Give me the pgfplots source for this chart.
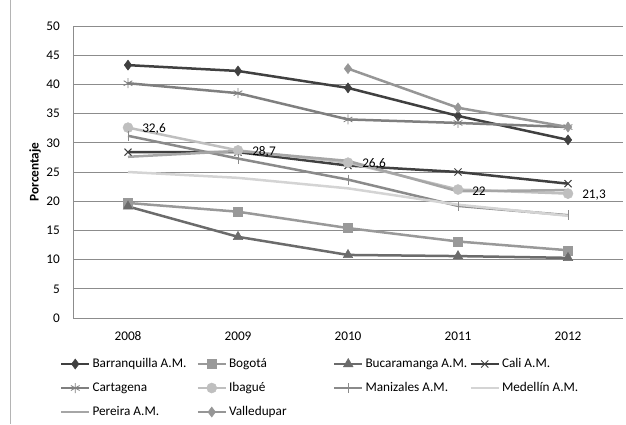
\documentclass[border=0pt]{standalone}
\usepackage{pgfplots}
\pgfplotsset{compat=1.18}
\usepackage{fontspec}
\setmainfont{Carlito}
\definecolor{gridc}{HTML}{8C8C8C}
\definecolor{cBarr}{HTML}{404040}
\definecolor{cBog}{HTML}{999999}
\definecolor{cBuc}{HTML}{6B6B6B}
\definecolor{cCali}{HTML}{404040}
\definecolor{cCart}{HTML}{7F7F7F}
\definecolor{cIba}{HTML}{BFBFBF}
\definecolor{cMan}{HTML}{8A8A8A}
\definecolor{cMed}{HTML}{D4D4D4}
\definecolor{cPer}{HTML}{A6A6A6}
\definecolor{cVal}{HTML}{969696}
\begin{document}
\fontsize{13.3}{16}\selectfont
\begin{tikzpicture}[x=1bp,y=1bp]
\useasboundingbox (0,0) rectangle (626,424);
\draw[color={rgb,255:red,180;green,180;blue,180}, line width=1bp] (10,0) -- (10,424);
\begin{axis}[
  at={(73bp,106bp)}, anchor=south west,
  scale only axis, width=550bp, height=292bp,
  xmin=-0.5, xmax=4.5, ymin=0, ymax=50,
  xtick={0,1,2,3,4}, xticklabels={2008,2009,2010,2011,2012},
  ytick={0,5,...,50},
  /pgf/number format/assume math mode=true,
  major tick length=0pt,
  axis lines*=left,
  axis line style={draw=gridc, line width=1bp},
  ymajorgrids, grid style={draw=gridc, line width=1bp},
  xticklabel style={anchor=base, inner sep=0pt, yshift=-22.3bp},
  yticklabel style={anchor=east, inner sep=0pt, xshift=-13bp},
  ylabel={\bfseries Porcentaje},
  every axis y label/.style={at={(axis description cs:-0.0691,0.5)}, rotate=90, anchor=center},
  legend columns=4,
  legend style={at={(axis description cs:-0.02364,-0.137)}, anchor=north west, draw=none, inner sep=0pt, outer sep=0pt,
    column sep=0pt, row sep=12bp, nodes={inner sep=0pt, anchor=west, text height=9bp, text depth=3bp},
    /tikz/every odd column/.append style={column sep=2bp}},
  legend image code/.code={\draw[mark repeat=2,mark phase=2] plot coordinates {(0bp,0bp) (14bp,0bp) (28bp,0bp)};},
  every axis plot/.append style={line width=2.5bp},
]
\addplot[cBarr, mark=diamond*, mark size=5bp, mark options={solid, line width=0.5bp}] coordinates {(0,43.3) (1,42.3) (2,39.4) (3,34.6) (4,30.5)};
\addlegendentry{\makebox[104bp][l]{Barranquilla A.M.}}
\addplot[cBog, mark=square*, mark size=4.5bp, mark options={line width=0.5bp}] coordinates {(0,19.7) (1,18.2) (2,15.4) (3,13.1) (4,11.6)};
\addlegendentry{\makebox[104bp][l]{Bogotá}}
\addplot[cBuc, mark=triangle*, mark size=5.5bp, mark options={line width=0.5bp}] coordinates {(0,19.1) (1,13.9) (2,10.8) (3,10.6) (4,10.3)};
\addlegendentry{\makebox[104bp][l]{Bucaramanga A.M.}}
\addplot[cCali, mark=x, mark size=5bp, mark options={line width=1bp}] coordinates {(0,28.4) (1,28.4) (2,26.1) (3,25.0) (4,23.0)};
\addlegendentry{\makebox[104bp][l]{Cali A.M.}}
\addplot[cCart, mark=asterisk, mark size=5bp, mark options={line width=0.8bp}] coordinates {(0,40.2) (1,38.5) (2,34.0) (3,33.4) (4,32.7)};
\addlegendentry{\makebox[104bp][l]{Cartagena}}
\addplot[cIba, mark=*, mark size=5bp, mark options={line width=0.5bp},
  nodes near coords, point meta=explicit symbolic,
  every node near coord/.style={anchor=west, inner sep=0pt, xshift=14bp, yshift=-1.5bp, text=black}] coordinates {(0,32.6) [32,6] (1,28.7) [28,7] (2,26.6) [26,6] (3,22.0) [22] (4,21.3) [21,3]};
\addlegendentry{\makebox[104bp][l]{Ibagué}}
\addplot[cMan, mark=|, mark size=5bp, mark options={line width=1bp}] coordinates {(0,31.2) (1,27.3) (2,23.7) (3,19.2) (4,17.6)};
\addlegendentry{\makebox[104bp][l]{Manizales A.M.}}
\addplot[cMed] coordinates {(0,25.0) (1,24.0) (2,22.2) (3,19.4) (4,17.5)};
\addlegendentry{\makebox[104bp][l]{Medellín A.M.}}
\addplot[cPer] coordinates {(0,27.6) (1,28.6) (2,26.9) (3,21.7) (4,21.9)};
\addlegendentry{\makebox[104bp][l]{Pereira A.M.}}
\addplot[cVal, mark=diamond*, mark size=5bp, mark options={line width=0.5bp}] coordinates {(2,42.7) (3,36.0) (4,32.7)};
\addlegendentry{\makebox[104bp][l]{Valledupar}}
\end{axis}
\end{tikzpicture}
\end{document}
